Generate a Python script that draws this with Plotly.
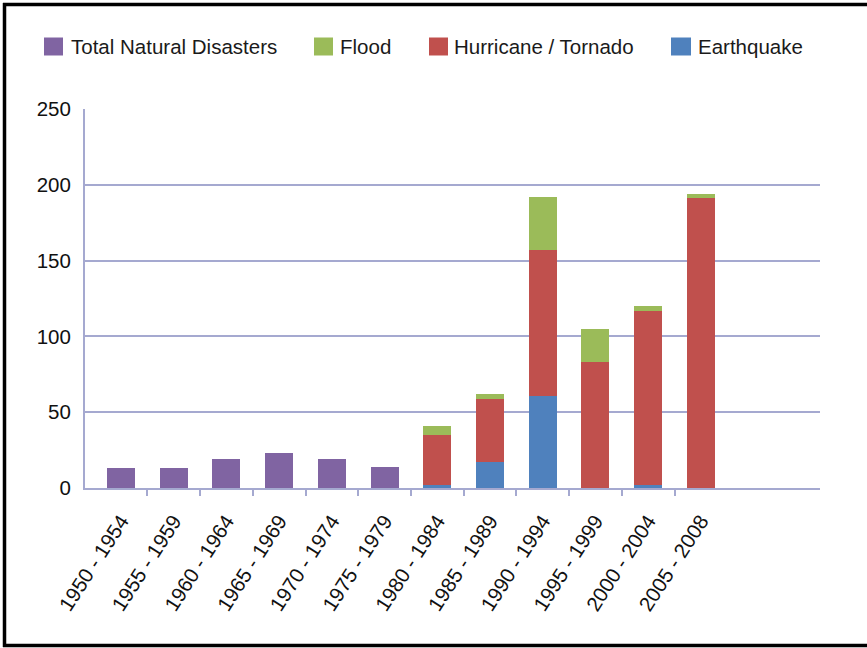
import plotly.graph_objects as go

# Natural disasters per five-year period, stacked by type
periods = ["1950 - 1954", "1955 - 1959", "1960 - 1964", "1965 - 1969",
           "1970 - 1974", "1975 - 1979", "1980 - 1984", "1985 - 1989",
           "1990 - 1994", "1995 - 1999", "2000 - 2004", "2005 - 2008"]
total_natural = [13, 13, 19, 23, 19, 14, 0, 0, 0, 0, 0, 0]
earthquake = [0, 0, 0, 0, 0, 0, 2, 17, 61, 0, 2, 0]
hurricane_tornado = [0, 0, 0, 0, 0, 0, 33, 42, 96, 83, 115, 191]
flood = [0, 0, 0, 0, 0, 0, 6, 3, 35, 22, 3, 3]

y_ticks = [0, 50, 100, 150, 200, 250]

series = [
    ("Total Natural Disasters", total_natural, "#8064a2"),
    ("Earthquake", earthquake, "#4f81bd"),
    ("Hurricane / Tornado", hurricane_tornado, "#c0504d"),
    ("Flood", flood, "#9bbb59"),
]
legend_order = ["Total Natural Disasters", "Flood", "Hurricane / Tornado", "Earthquake"]

W, H = 867, 648
L, R, T, B = 85, 47, 109, 160
PW, PH = W - L - R, H - T - B
FONT = "Liberation Sans, Arial, Helvetica, sans-serif"
GRID = "#a5a9d0"

def px_x(p):
    return (p - L) / PW

def px_y(p):
    return (H - B - p) / PH

xs = list(range(len(periods)))
fig = go.Figure()
for name, vals, col in series:
    fig.add_trace(go.Bar(
        x=xs, y=vals, name=name, marker=dict(color=col, line=dict(width=0)),
        showlegend=False,
    ))

# legend drawn as swatches + labels across the top
colors = {n: c for n, _, c in series}
swatch_x = {"Total Natural Disasters": (44, 63), "Flood": (314, 333),
            "Hurricane / Tornado": (429, 448), "Earthquake": (671, 691)}
label_x = {"Total Natural Disasters": 69, "Flood": 338,
           "Hurricane / Tornado": 452, "Earthquake": 696}
shapes = []
annotations = []
for n in legend_order:
    x0, x1 = swatch_x[n]
    shapes.append(dict(type="rect", xref="paper", yref="paper",
                       x0=px_x(x0), x1=px_x(x1), y0=px_y(55.5), y1=px_y(37.5),
                       fillcolor=colors[n], line=dict(width=0)))
    annotations.append(dict(xref="paper", yref="paper", x=px_x(label_x[n]), y=px_y(46.5),
                            xanchor="left", yanchor="middle", showarrow=False, text=n,
                            font=dict(family=FONT, size=20.5, color="#1a1a1a")))

# outer frame (top, left, bottom)
for (x0, y0, x1, y1) in [(3, 4.5, 867, 4.5), (4.5, 3, 4.5, 647), (3, 645.5, 867, 645.5)]:
    shapes.append(dict(type="line", xref="paper", yref="paper",
                       x0=px_x(x0), x1=px_x(x1), y0=px_y(y0), y1=px_y(y1),
                       line=dict(color="black", width=3.5)))

fig.update_layout(
    width=W, height=H,
    margin=dict(l=L, r=R, t=T, b=B),
    barmode="stack", bargap=0.47,
    paper_bgcolor="white", plot_bgcolor="white",
    font=dict(family=FONT, size=20, color="#111111"),
    showlegend=False,
    shapes=shapes, annotations=annotations,
)
fig.update_xaxes(
    range=[-0.683, 13.26], tickmode="array", tickvals=xs, ticktext=periods,
    tickangle=-57, ticks="", showgrid=False, zeroline=False,
    showline=True, linecolor=GRID, linewidth=2,
    ticklabelstandoff=11,
    tickfont=dict(family=FONT, size=20.5, color="#111111"),
    minor=dict(tickmode="array", tickvals=[i + 0.5 for i in xs[:-1]],
               ticks="outside", ticklen=6, tickwidth=2, tickcolor=GRID, showgrid=False),
)
fig.update_yaxes(
    range=[0, 250], tickmode="array", tickvals=y_ticks,
    showgrid=True, gridcolor=GRID, gridwidth=2, zeroline=False,
    showline=True, linecolor=GRID, linewidth=2, ticks="",
    ticklabelstandoff=8,
    tickfont=dict(family=FONT, size=20.5, color="#111111"),
)

fig.write_html("out.html")
